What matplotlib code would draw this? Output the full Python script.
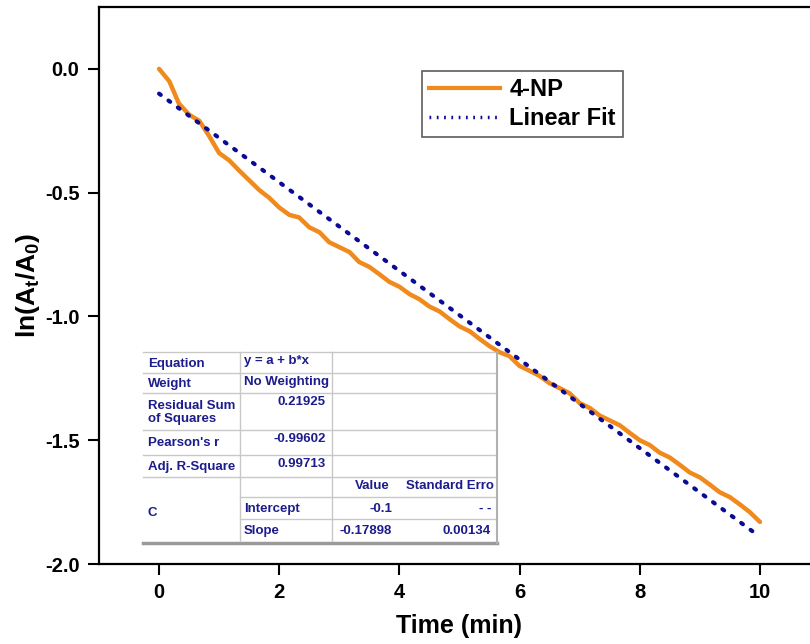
import matplotlib.pyplot as plt
from matplotlib.lines import Line2D

plt.rcParams['font.family'] = ['Liberation Sans', 'DejaVu Sans']
plt.rcParams['mathtext.fontset'] = 'custom'
plt.rcParams['mathtext.rm'] = 'Liberation Sans:bold'
plt.rcParams['mathtext.it'] = 'Liberation Sans:bold'
plt.rcParams['mathtext.bf'] = 'Liberation Sans:bold'

# 4-NP data
time = [0, 0.17, 0.33, 0.5, 0.67, 0.83, 1.0, 1.17, 1.33, 1.5, 1.67, 1.83, 2.0,
        2.17, 2.33, 2.5, 2.67, 2.83, 3.0, 3.17, 3.33, 3.5, 3.67, 3.83, 4.0,
        4.17, 4.33, 4.5, 4.67, 4.83, 5.0, 5.17, 5.33, 5.5, 5.67, 5.83, 6.0,
        6.17, 6.33, 6.5, 6.67, 6.83, 7.0, 7.17, 7.33, 7.5, 7.67, 7.83, 8.0,
        8.17, 8.33, 8.5, 8.67, 8.83, 9.0, 9.17, 9.33, 9.5, 9.67, 9.83, 10.0]
ln_ratio = [0.0, -0.05, -0.14, -0.185, -0.21, -0.27, -0.34, -0.37, -0.41, -0.45,
            -0.49, -0.52, -0.56, -0.59, -0.60, -0.64, -0.66, -0.70, -0.72, -0.74,
            -0.78, -0.80, -0.83, -0.86, -0.88, -0.91, -0.93, -0.96, -0.98, -1.01,
            -1.04, -1.06, -1.09, -1.12, -1.145, -1.16, -1.20, -1.22, -1.24, -1.27,
            -1.29, -1.31, -1.35, -1.37, -1.40, -1.42, -1.44, -1.47, -1.50, -1.52,
            -1.55, -1.57, -1.60, -1.63, -1.65, -1.68, -1.71, -1.73, -1.76, -1.79,
            -1.83]

# linear fit end points (intercept -0.1, slope -0.17898)
fit_x = [0, 10]
fit_y = [-0.1, -1.89]

W, H = 810, 644
fig = plt.figure(figsize=(W / 100, H / 100), dpi=100)
# axes runs off the right edge of the picture like the original
ax = fig.add_axes([99 / W, 1 - 564 / H, (820 - 99) / W, (564 - 7) / H])

ax.plot(time, ln_ratio, color='#f08a1c', lw=3.2, label='4-NP', solid_capstyle='round')
ax.plot(fit_x, fit_y, color='#0a0a96', lw=3, ls=(0, (0.5, 2.3)), dash_capstyle='round',
        label='Linear Fit')

ax.set_xlim(-1, 11)
ax.set_ylim(-2.0, 0.25)
ax.set_xticks([0, 2, 4, 6, 8, 10])
ax.set_yticks([0.0, -0.5, -1.0, -1.5, -2.0])
ax.set_yticklabels(['0.0', '-0.5', '-1.0', '-1.5', '-2.0'])
ax.tick_params(direction='out', length=8, width=1.5, labelsize=14.5, pad=6)
for lab in ax.get_xticklabels() + ax.get_yticklabels():
    lab.set_fontweight('bold')
for s in ax.spines.values():
    s.set_linewidth(1.6)
ax.set_xlabel('Time (min)', fontsize=18, fontweight='bold', labelpad=8)
ax.set_ylabel(r'ln(A$_t$/A$_0$)', fontsize=19, fontweight='bold', labelpad=2)

handles = [Line2D([], [], color='#f08a1c', lw=3),
           Line2D([], [], color='#0a0a96', lw=2.5, ls=(0, (0.5, 1.6)))]
leg = ax.legend(handles, ['4-NP', 'Linear Fit'], loc='upper left',
                bbox_to_anchor=((422 - 99) / (820 - 99), 1 - (71 - 7) / 557),
                prop={'weight': 'bold', 'size': 17},
                frameon=True, fancybox=False, edgecolor='#333333', handlelength=3.0,
                handletextpad=0.4, borderpad=0.3, labelspacing=0.25, borderaxespad=0)
leg.get_frame().set_linewidth(1.2)


# fit results table, drawn in pixel positions of the figure
def fx(x):
    return x / W


def fy(y):
    return 1 - y / H


navy = '#1c1c8c'
grid = '#c8c8c8'
tx0, tx1, tx2, tx3 = 143, 240, 332, 497
rows = [352, 373, 393, 430, 455, 477, 497, 519, 541]

fig.patches.append(plt.Rectangle((fx(tx0), fy(rows[-1])), fx(tx3 - tx0), (rows[-1] - rows[0]) / H,
                                 transform=fig.transFigure, facecolor='white', edgecolor='none',
                                 zorder=5))


def hline(y, x0, x1, c=grid, lw=1):
    fig.add_artist(Line2D([fx(x0), fx(x1)], [fy(y), fy(y)], color=c, lw=lw, zorder=6))


def vline(x, y0, y1, c=grid, lw=1):
    fig.add_artist(Line2D([fx(x), fx(x)], [fy(y0), fy(y1)], color=c, lw=lw, zorder=6))


for y in rows[:6]:
    hline(y, tx0, tx3)
for y in rows[6:8]:
    hline(y, tx1, tx3)
hline(rows[-1] + 2, tx0, tx3, c='#9a9a9a', lw=2.5)
vline(tx1, rows[0], rows[-1])
vline(tx2, rows[0], rows[-1])
vline(tx3, rows[0], rows[-1] + 2, c='#b0b0b0', lw=1.5)

tfont = dict(fontsize=9.5, fontweight='bold', color=navy, zorder=7)
labels = ['Equation', 'Weight', 'Residual Sum\nof Squares', "Pearson's r", 'Adj. R-Square']
values = ['y = a + b*x', 'No Weighting', '0.21925', '-0.99602', '0.99713']
for i in range(5):
    mid = (rows[i] + rows[i + 1]) / 2
    fig.text(fx(tx0 + 5), fy(mid + 1), labels[i], va='center', ha='left', linespacing=1.15, **tfont)
    if i < 2:
        fig.text(fx(tx1 + 4), fy(rows[i] + 3), values[i], va='top', ha='left', **tfont)
    else:
        fig.text(fx(tx2 - 6), fy(rows[i] + 3), values[i], va='top', ha='right', **tfont)

fig.text(fx(tx0 + 5), fy((rows[5] + rows[8]) / 2 + 4), 'C', va='center', ha='left', **tfont)
fig.text(fx(372), fy(rows[5] + 3), 'Value', va='top', ha='center', **tfont)
fig.text(fx(494), fy(rows[5] + 3), 'Standard Erro', va='top', ha='right', **tfont)
param_names = ['Intercept', 'Slope']
param_vals = ['-0.1', '-0.17898']
param_errs = ['- -', '0.00134']
for j in range(2):
    mid = (rows[6 + j] + rows[7 + j]) / 2
    fig.text(fx(tx1 + 4), fy(mid + 1), param_names[j], va='center', ha='left', **tfont)
    fig.text(fx(392), fy(mid + 1), param_vals[j], va='center', ha='right', **tfont)
    fig.text(fx(491), fy(mid + 1), param_errs[j], va='center', ha='right', **tfont)

fig.savefig('out.png', dpi=100)
